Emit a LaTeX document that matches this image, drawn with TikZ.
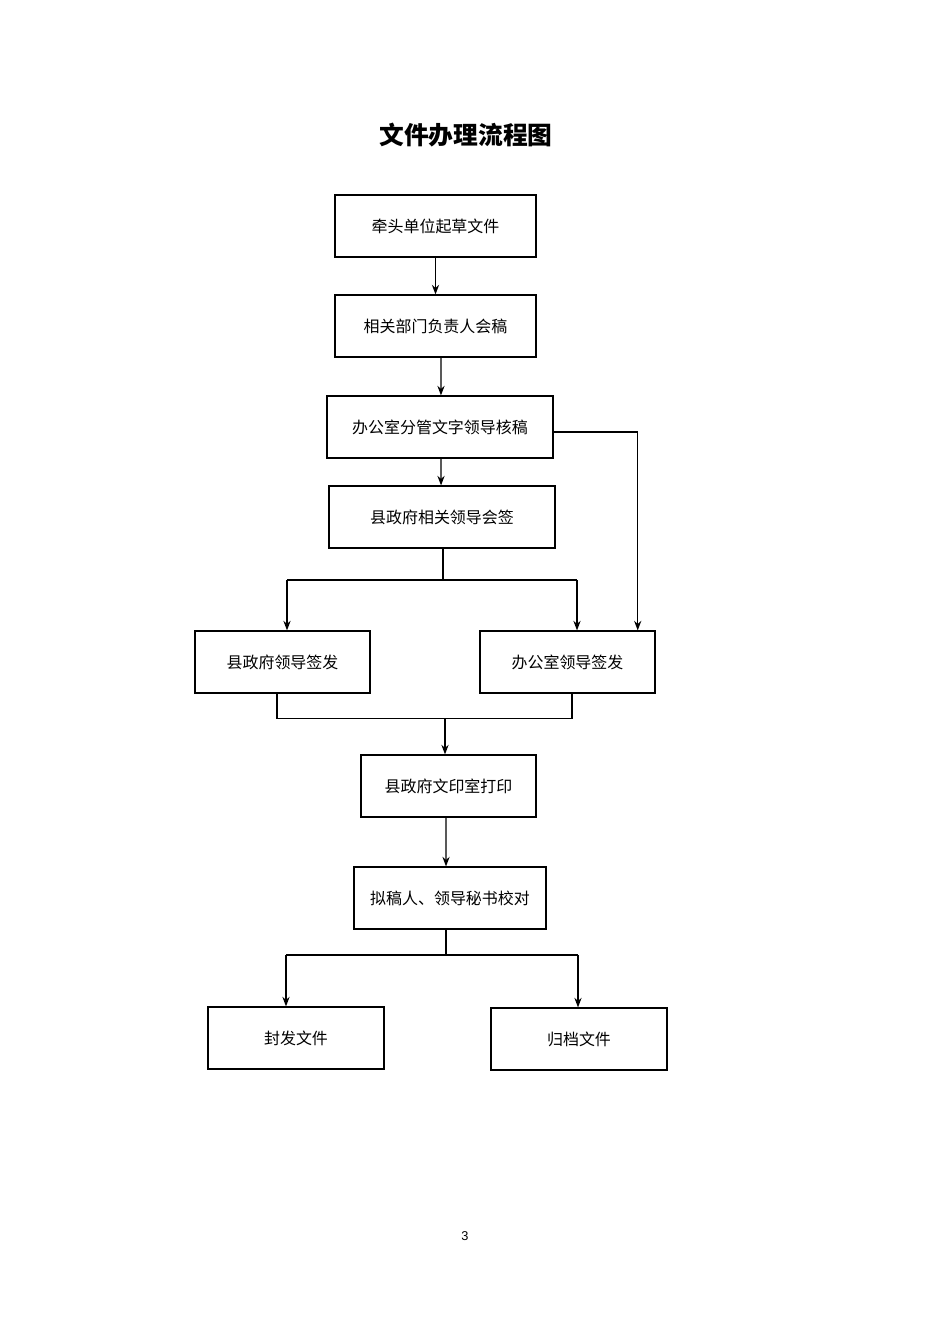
\documentclass[tikz,border=0pt]{standalone}
\usepackage{fontspec}
\setmainfont{Liberation Sans}
\newfontfamily\cjk{Noto Sans CJK SC}
\usetikzlibrary{arrows.meta,positioning}
\tikzset{
  box/.style={draw, thick, minimum height=38.8pt, inner sep=0pt, font=\cjk\fontsize{10}{12}\selectfont},
  arr/.style={thick, -{Stealth[length=6pt,width=4.5pt]}},
  ln/.style={thick}
}
\begin{document}
\begin{tikzpicture}[x=0.6266pt, y=-0.6266pt]
	\useasboundingbox (0,0) rectangle (950,1344);
	%title
		\node (title) at (466,135) {\cjk\fontsize{15.5}{18}\selectfont\bfseries 文件办理流程图};
	%boxes
		\node[box, minimum width=126pt] (qt) at (435.5,226) {牵头单位起草文件};
		\node[box, minimum width=126pt] (hg) at (435.5,326) {相关部门负责人会稿};
		\node[box, minimum width=141.6pt] (hegao) at (440,427) {办公室分管文字领导核稿};
		\node[box, minimum width=141.6pt] (hq) at (442,517) {县政府相关领导会签};
		\node[box, minimum width=109.7pt] (xqf) at (282.5,662) {县政府领导签发};
		\node[box, minimum width=109.7pt] (bqf) at (567.5,662) {办公室领导签发};
		\node[box, minimum width=109.7pt] (dy) at (448.5,786) {县政府文印室打印};
		\node[box, minimum width=120.3pt] (jd) at (450,898) {拟稿人、领导秘书校对};
		\node[box, minimum width=110.3pt] (ff) at (296,1038) {封发文件};
		\node[box, minimum width=110.3pt] (gd) at (579,1039) {归档文件};
	%arrows
		\draw[arr] (qt) -- (hg);
		\draw[arr] ([xshift=3.5pt]hg.south) -- ([xshift=0.6pt]hegao.north);
		\draw[arr] ([xshift=0.6pt]hegao.south) -- ([xshift=-0.6pt]hq.north);
		\draw[arr] (hegao.east |- 0,432) -| ([xshift=44pt]bqf.north);
	%split after sign
		\draw[ln] ([xshift=0.6pt]hq.south) -- ++(0,32) coordinate (j1);
		\draw[ln] (287,580) coordinate (j1l) -- (577,580) coordinate (j1r);
		\draw[arr] (j1l) -- (j1l |- xqf.north);
		\draw[arr] (j1r) -- (j1r |- bqf.north);
	%merge
		\draw[ln] ([xshift=-3.5pt]xqf.south) -- ++(0,25) coordinate (j2l);
		\draw[ln] ([xshift=2.8pt]bqf.south) -- ++(0,25) coordinate (j2r);
		\draw[ln] (j2l) -- (j2r);
		\draw[arr] (445,718) -- (445,718 |- dy.north);
		\draw[arr] ([xshift=-1.5pt]dy.south) -- ([xshift=-2.5pt]jd.north);
	%split at end
		\draw[ln] ([xshift=-2.5pt]jd.south) -- ++(0,26);
		\draw[ln] (286,955) coordinate (j3l) -- (578,955) coordinate (j3r);
		\draw[arr] (j3l) -- (j3l |- ff.north);
		\draw[arr] (j3r) -- (j3r |- gd.north);
	%page number
		\node[font=\fontsize{8}{10}\selectfont] (pg) at (465,1236) {3};
\end{tikzpicture}
\end{document}
